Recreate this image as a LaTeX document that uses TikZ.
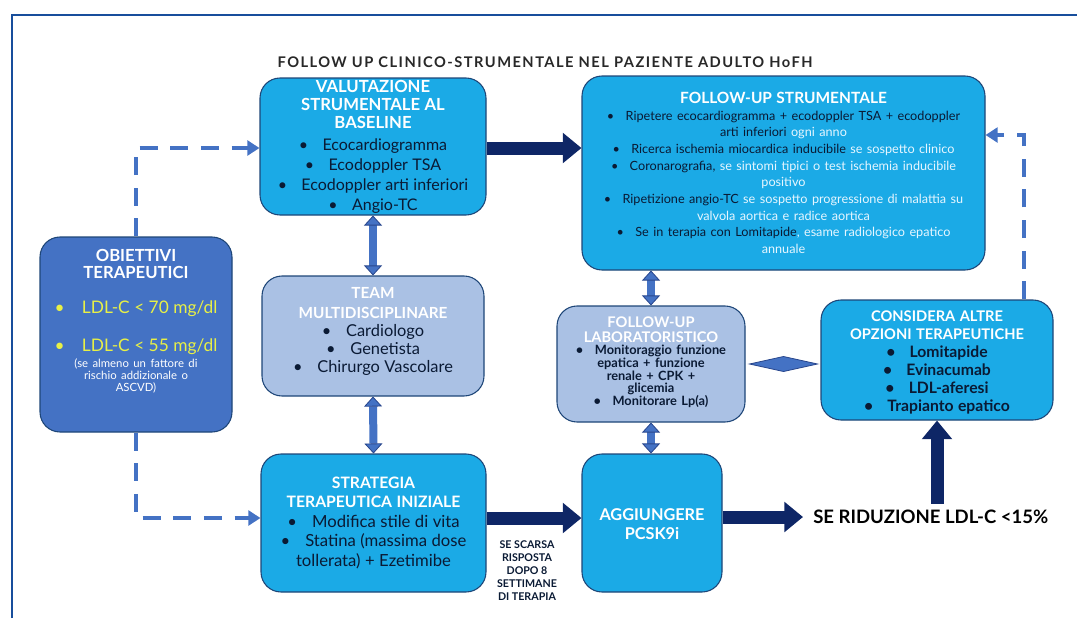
\documentclass[tikz,border=0pt]{standalone}
\usepackage{fontspec}
\setmainfont{Lato}
\usetikzlibrary{arrows.meta,calc}
\definecolor{cyanfill}{RGB}{27,170,230}
\definecolor{boxedge}{RGB}{30,70,120}
\definecolor{midblue}{RGB}{68,114,196}
\definecolor{midedge}{RGB}{40,70,140}
\definecolor{lightfill}{RGB}{170,193,228}
\definecolor{navy}{RGB}{14,38,102}
\definecolor{darktext}{RGB}{10,26,52}
\definecolor{ytext}{RGB}{232,240,70}
\definecolor{frameblue}{RGB}{24,78,156}
\definecolor{titlegray}{RGB}{40,40,40}
\definecolor{softwhite}{RGB}{230,246,255}
\newcommand{\bu}{\textbullet\hspace{0.9em}}
\begin{document}
\begin{tikzpicture}[x=0.75pt,y=-0.75pt,
  bx/.style={draw=boxedge, line width=0.8pt, rounded corners=15pt, inner sep=0pt},
  sz/.style 2 args={minimum width=#1*0.75pt, minimum height=#2*0.75pt},
  cy/.style={bx, fill=cyanfill},
  lb/.style={bx, fill=lightfill},
  mb/.style={bx, fill=midblue},
  txt/.style={inner sep=0pt, align=center},
  bigarrow/.style={navy, line width=9.75pt, -{Triangle[length=14pt,width=22pt]}},
  dbl/.style={midblue, line width=6pt,
     {Triangle[length=7.5pt,width=13.5pt,line width=0.6pt,fill=midblue,color=midedge]}-{Triangle[length=7.5pt,width=13.5pt,line width=0.6pt,fill=midblue,color=midedge]}},
  dsh/.style={midblue, line width=3pt, dash pattern=on 13.5pt off 9.5pt, -{Triangle[length=9pt,width=11pt]}}
]
\useasboundingbox (0,0) rectangle (1077,618);
% frame
\draw[frameblue, line width=2.2pt] (12,618) -- (12,15) -- (1077,15);

% title
\node[font=\fontsize{11}{13}\selectfont\bfseries\addfontfeature{LetterSpace=10}, text=titlegray] (title) at (545,62)
  {FOLLOW UP CLINICO-STRUMENTALE NEL PAZIENTE ADULTO HoFH};

% boxes
\node[cy, sz={226}{137}] (val) at (373,146.5) {};
\node[cy, sz={403}{194}] (fus) at (783.5,173) {};
\node[mb, sz={192}{195}] (obi) at (136,334.5) {};
\node[lb, sz={222}{120}] (team) at (373,336) {};
\node[lb, sz={188}{116}] (lab) at (651,364) {};
\node[cy, sz={232}{120}] (cons) at (937,360) {};
\node[cy, sz={225}{138}] (strat) at (373.5,523) {};
\node[cy, sz={140}{138}] (agg) at (652,523) {};

% box texts
\node[txt, text width=165pt] (valtxt) at (val.center)
 {{\fontsize{12.5}{13.5}\selectfont\bfseries\color{white}VALUTAZIONE\\STRUMENTALE AL\\BASELINE\par}
  \vspace{1.5pt}
  {\fontsize{12}{15}\selectfont\color{darktext}\bu Ecocardiogramma\\
   \bu Ecodoppler TSA\\
   \bu Ecodoppler arti inferiori\\
   \bu Angio-TC\par}};

\node[txt, text width=295pt] (fustxt) at (fus.center)
 {{\fontsize{11.6}{13}\selectfont\bfseries\color{white}FOLLOW-UP STRUMENTALE\par}
  {\fontsize{9.5}{12.5}\selectfont\color{darktext}%
   \bu Ripetere ecocardiogramma + ecodoppler TSA + ecodoppler\\
   arti inferiori {\color{softwhite}ogni anno}\\
   \bu Ricerca ischemia miocardica inducibile {\color{softwhite}se sospetto clinico}\\
   \bu Coronarografia, {\color{softwhite}se sintomi tipici o test ischemia inducibile}\\
   {\color{softwhite}positivo}\\
   \bu Ripetizione angio-TC {\color{softwhite}se sospetto progressione di malattia su}\\
   {\color{softwhite}valvola aortica e radice aortica}\\
   \bu Se in terapia con Lomitapide{\color{softwhite}, esame radiologico epatico}\\
   {\color{softwhite}annuale}\par}};

\node[txt, text width=140pt] (obitxt) at ($(obi.center)+(0,-13)$)
 {{\fontsize{12.5}{12.75}\selectfont\bfseries\color{white}OBIETTIVI\\TERAPEUTICI\par}
  {\fontsize{13}{26}\selectfont\color{ytext}\textbullet\hspace{1em}LDL-C < 70 mg/dl\par}
  {\fontsize{13}{28.5}\selectfont\color{ytext}\textbullet\hspace{1em}LDL-C < 55 mg/dl\par}
  \vspace{3.5pt}
  {\fontsize{8.5}{9}\selectfont\color{white}(se almeno un fattore di\\rischio addizionale o\\ASCVD)\par}};

\node[txt, text width=160pt] (teamtxt) at ($(team.center)+(0,-5)$)
 {{\fontsize{11.5}{15}\selectfont\bfseries\color{white}TEAM\\MULTIDISCIPLINARE\par}
  {\fontsize{12.3}{13.5}\selectfont\color{darktext}\bu Cardiologo\\
   \bu Genetista\\
   \bu Chirurgo Vascolare\par}};

\node[txt, text width=140pt] (labtxt) at ($(lab.center)+(0,-2)$)
 {{\fontsize{11}{11.25}\selectfont\bfseries\color{white}FOLLOW-UP\\LABORATORISTICO\par}
  {\fontsize{9.6}{9.5}\selectfont\bfseries\color{darktext}\bu Monitoraggio funzione\\
   epatica + funzione\\ renale + CPK +\\ glicemia\\
   \bu Monitorare Lp(a)\par}};

\node[txt, text width=170pt] (constxt) at ($(cons.center)+(0,2)$)
 {{\fontsize{11}{13.5}\selectfont\bfseries\color{white}CONSIDERA ALTRE\\OPZIONI TERAPEUTICHE\par}
  {\fontsize{11.8}{13.5}\selectfont\bfseries\color{darktext}\bu Lomitapide\\
   \bu Evinacumab\\
   \bu LDL-aferesi\\
   \bu Trapianto epatico\par}};

\node[txt, text width=168pt] (strattxt) at (strat.center)
 {{\fontsize{11.8}{14.25}\selectfont\bfseries\color{white}STRATEGIA\\TERAPEUTICA INIZIALE\par}
  {\fontsize{12.5}{14.6}\selectfont\color{darktext}\bu Modifica stile di vita\\
   \bu Statina (massima dose\\
   tollerata) + Ezetimibe\par}};

\node[txt, text width=100pt] (aggtxt) at ($(agg.center)+(0,1)$)
 {\fontsize{12.2}{14}\selectfont\bfseries\color{white}AGGIUNGERE\\PCSK9i\par};

% free texts
\node[align=center, font=\fontsize{8}{9.75}\selectfont\bfseries, text=darktext] (scarsa) at (527,571)
 {SE SCARSA\\RISPOSTA\\DOPO 8\\SETTIMANE\\DI TERAPIA};
\node[anchor=west, inner sep=0pt, font=\fontsize{13.9}{15}\selectfont\bfseries, text=black] (ridu) at (813,517)
 {SE RIDUZIONE LDL-C <15\%};

% big navy arrows
\draw[bigarrow] ($(val.east)+(0,1.5)$) -- ($(val.east -| fus.west)+(0,1.5)$);
\draw[bigarrow] ($(strat.east)+(0,-5)$) -- ($(strat.east -| agg.west)+(0,-5)$);
\draw[bigarrow] ($(agg.east)+(0,-6)$) -- ($(agg.east -| ridu.west)+(-10,-6)$);
\coordinate (upstart) at ($(cons.south |- ridu.north)+(0,-6)$);
\draw[bigarrow] (upstart) -- (cons.south);

% double arrows
\draw[dbl] (val.south) -- (team.north);
\draw[dbl] (team.south) -- (strat.north);
\draw[dbl] (lab.north |- fus.south) -- (lab.north);
\draw[dbl] (lab.south) -- (lab.south |- agg.north);

% diamond link between lab and cons
\coordinate (dl) at ($(lab.east)+(4,0)$);
\coordinate (dr) at ($(lab.east -| cons.west)+(-3,0)$);
\coordinate (dm) at ($(dl)!0.5!(dr)$);
\filldraw[fill=midblue, draw=midedge, line width=0.6pt]
  (dl) -- ($(dm)+(0,-7.5)$) -- (dr) -- ($(dm)+(0,7.5)$) -- cycle;

% dashed connectors
\draw[dsh] (obi.north) |- ($(val.west)+(0,1.5)$);
\draw[dsh] (obi.south) |- ($(strat.west)+(0,-5)$);
\coordinate (rstart) at ($(cons.north east)+(-30,0)$);
\draw[dsh] (rstart) |- ($(fus.east)+(0,-38)$);
\end{tikzpicture}
\end{document}
